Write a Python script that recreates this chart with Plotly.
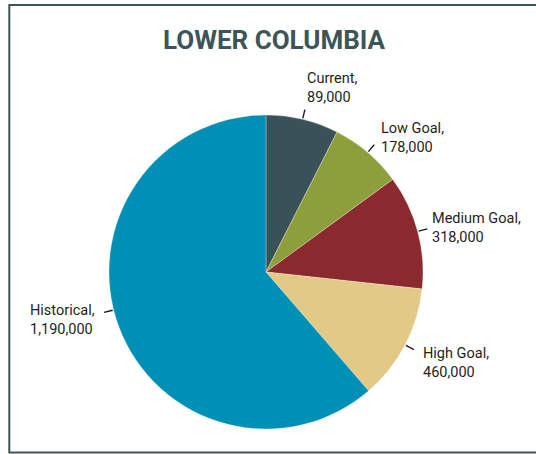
import math
import numpy as np
import plotly.graph_objects as go

# Lower Columbia abundance levels (fish)
categories = ["Current", "Low Goal", "Medium Goal", "High Goal", "Historical"]
abundance = [89000, 178000, 318000, 460000, 1190000]
colors = ["#3a5157", "#8d9f3b", "#8a2a2e", "#e2c986", "#0090b5"]

# each wedge is the step up from the previous level, so the whole pie is Historical
steps = np.diff([0] + abundance)

W, H = 536, 454
CX, CY, R = 266, 272, 157           # pie centre / radius in pixels
TEXT_FONT = "Roboto, Liberation Sans, sans-serif"


def px(x):
    return x / W


def py(y):
    return 1 - y / H


fig = go.Figure(
    go.Pie(
        labels=categories,
        values=steps,
        sort=False,
        direction="clockwise",
        rotation=0,
        textinfo="none",
        hoverinfo="label",
        marker=dict(colors=colors, line=dict(color="rgba(255,255,255,0.5)", width=0.6)),
        domain=dict(x=[px(CX - R), px(CX + R)], y=[py(CY + R), py(CY - R)]),
        showlegend=False,
    )
)

# leader angles (deg clockwise from 12 o'clock): slice mid-angles,
# the Historical label sits a little higher on its wedge
fractions = steps / steps.sum()
ends = np.cumsum(fractions) * 360
starts = ends - fractions * 360
leader_angle = list((starts + ends) / 2)
leader_angle[-1] = 256

# label block offset from the end of each leader line (pixels)
label_offset = [(0, -21.5), (5, -7), (3, -0.5), (7, 13), (-7, 8)]

shapes = []
annotations = []
for cat, val, ang, (dx, dy) in zip(categories, abundance, leader_angle, label_offset):
    a = math.radians(ang)
    x0, y0 = CX + (R + 1) * math.sin(a), CY - (R + 1) * math.cos(a)
    x1, y1 = CX + (R + 10) * math.sin(a), CY - (R + 10) * math.cos(a)
    shapes.append(dict(type="line", xref="paper", yref="paper",
                       x0=px(x0), y0=py(y0), x1=px(x1), y1=py(y1),
                       line=dict(color="#1a1a1a", width=1.4)))
    right_side = math.sin(a) >= 0
    annotations.append(dict(
        xref="paper", yref="paper",
        x=px(x1 + dx), y=py(y1 + dy),
        xanchor="left" if right_side else "right", yanchor="middle",
        align="left", showarrow=False,
        text=f"{cat},<br>{val:,}",
        font=dict(family=TEXT_FONT, size=14.5, color="#231f20"),
    ))

annotations.append(dict(
    xref="paper", yref="paper", x=px(274.5), y=py(40),
    xanchor="center", yanchor="middle", showarrow=False,
    text="<b>LOWER COLUMBIA</b>",
    font=dict(family=TEXT_FONT, size=26, color="#3d5558"),
))

# panel frame
shapes.append(dict(type="rect", xref="paper", yref="paper",
                   x0=px(9.3), y0=py(452.5), x1=px(W + 5), y1=py(5),
                   line=dict(color="#3f5558", width=2), fillcolor="rgba(0,0,0,0)"))

fig.update_layout(
    width=W, height=H,
    margin=dict(l=0, r=0, t=0, b=0),
    paper_bgcolor="white", plot_bgcolor="white",
    shapes=shapes, annotations=annotations,
)

fig.write_html("out.html")
